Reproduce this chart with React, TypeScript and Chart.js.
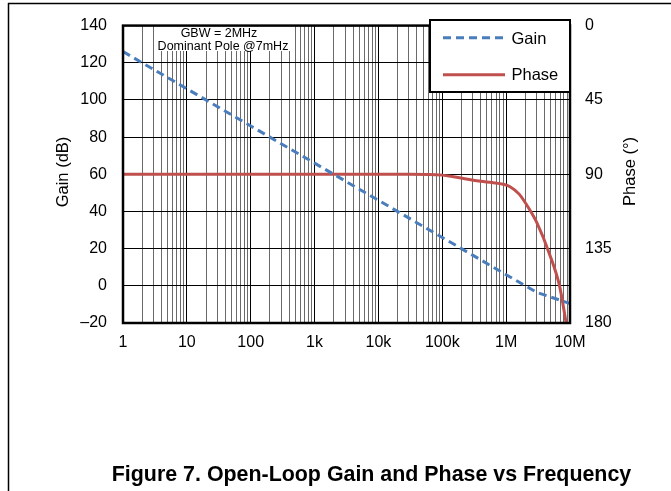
import React, { useEffect, useRef } from "react";
import { Chart, registerables } from "chart.js";

Chart.register(...registerables);

// ---------- data ----------
const gainFreqHz = [1, 10, 100, 1e3, 1e4, 1e5, 1e6, 3e6, 1e7];
const gainDb = [126, 106, 86, 66, 46, 26, 6, -3.5, -9.5];

const phaseFreqHz = [1, 3e4, 1e5, 1.5e5, 2.5e5, 4e5, 6e5, 9e5, 1.15e6, 1.6e6, 2.3e6, 3e6, 4.8e6, 6.9e6, 8.7e6];
const phaseDeg = [90, 90, 90.5, 91.5, 93, 94.2, 95, 96, 97.5, 102, 111, 119, 138.5, 158, 180];

const decadeValues = [1, 10, 100, 1e3, 1e4, 1e5, 1e6, 1e7];
const decadeLabels = ["1", "10", "100", "1k", "10k", "100k", "1M", "10M"];
const gainTicks = [-20, 0, 20, 40, 60, 80, 100, 120, 140];
const phaseTicks = [0, 45, 90, 135, 180];

const seriesNames = ["Gain", "Phase"];
const gainAxisTitle = "Gain (dB)";
const phaseAxisTitle = "Phase (°)";
const noteLines = ["GBW = 2MHz", "Dominant Pole @7mHz"];
const captionText = "Figure 7. Open-Loop Gain and Phase vs Frequency";

// ---------- styles ----------
const FONT = '"Liberation Sans", Arial, Helvetica, sans-serif';
const BLUE = "#4a7dbb";
const RED = "#c0504d";
const DASH = [8, 5];
const W = 671;
const H = 491;

const gridValues: number[] = [];
for (let i = 0; i < decadeValues.length - 1; i++) {
  for (let m = 1; m <= 9; m++) gridValues.push(m * decadeValues[i]);
}
gridValues.push(decadeValues[decadeValues.length - 1]);

const isDecade = (v: number) => decadeValues.some((d) => Math.abs(d - v) / d < 1e-9);
const labelFor = (v: number) => {
  const idx = decadeValues.findIndex((d) => Math.abs(d - v) / d < 1e-9);
  return idx >= 0 ? decadeLabels[idx] : "";
};

const decorPlugin = {
  id: "decor",
  beforeDatasetsDraw(chart: any) {
    const { ctx } = chart;
    // annotation box
    ctx.save();
    ctx.fillStyle = "#ffffff";
    ctx.fillRect(156, 23, 134, 28);
    ctx.fillStyle = "#000";
    ctx.font = `12.5px ${FONT}`;
    ctx.textAlign = "center";
    ctx.textBaseline = "alphabetic";
    ctx.fillText(noteLines[0], 219, 36.7);
    ctx.fillText(noteLines[1], 223, 50);
    ctx.restore();
  },
  afterDraw(chart: any) {
    const { ctx, chartArea: a } = chart;
    ctx.save();
    // plot border
    ctx.strokeStyle = "#000";
    ctx.lineWidth = 2.5;
    ctx.strokeRect(a.left, a.top, a.right - a.left, a.bottom - a.top);

    // legend
    const lx = 430, ly = 20, lw = a.right - 430, lh = 72;
    ctx.fillStyle = "#fff";
    ctx.fillRect(lx, ly, lw, lh);
    ctx.lineWidth = 2;
    ctx.strokeRect(lx, ly, lw, lh);
    ctx.lineWidth = 3;
    ctx.strokeStyle = BLUE;
    ctx.setLineDash(DASH);
    ctx.beginPath();
    ctx.moveTo(443, 37.7);
    ctx.lineTo(505, 37.7);
    ctx.stroke();
    ctx.setLineDash([]);
    ctx.strokeStyle = RED;
    ctx.beginPath();
    ctx.moveTo(443, 74.7);
    ctx.lineTo(505, 74.7);
    ctx.stroke();
    ctx.fillStyle = "#000";
    ctx.font = `16.5px ${FONT}`;
    ctx.textAlign = "left";
    ctx.textBaseline = "alphabetic";
    ctx.fillText(seriesNames[0], 511.5, 44.3);
    ctx.fillText(seriesNames[1], 511.5, 80);

    // axis titles
    ctx.font = `16.5px ${FONT}`;
    ctx.textAlign = "center";
    ctx.textBaseline = "middle";
    ctx.save();
    ctx.translate(63.5, 172);
    ctx.rotate(-Math.PI / 2);
    ctx.fillText(gainAxisTitle, 0, 0);
    ctx.restore();
    ctx.save();
    ctx.translate(630, 171.5);
    ctx.rotate(-Math.PI / 2);
    ctx.fillText(phaseAxisTitle, 0, 0);
    ctx.restore();

    // caption
    ctx.font = `bold 21.4px ${FONT}`;
    ctx.textAlign = "center";
    ctx.textBaseline = "alphabetic";
    ctx.fillText(captionText, 371.5, 481);

    // page frame
    ctx.strokeStyle = "#000";
    ctx.lineWidth = 1.5;
    ctx.beginPath();
    ctx.moveTo(8, 3.5);
    ctx.lineTo(W, 3.5);
    ctx.moveTo(8.5, 3);
    ctx.lineTo(8.5, H);
    ctx.stroke();
    ctx.restore();
  },
};

export default function App() {
  const ref = useRef<HTMLCanvasElement | null>(null);

  useEffect(() => {
    if (!ref.current) return;
    const chart = new Chart(ref.current, {
      type: "line",
      data: {
        datasets: [
          {
            label: seriesNames[0],
            data: gainFreqHz.map((f, i) => ({ x: f, y: gainDb[i] })),
            yAxisID: "y",
            borderColor: BLUE,
            borderWidth: 3,
            borderDash: DASH,
            pointRadius: 0,
            tension: 0,
            fill: false,
          },
          {
            label: seriesNames[1],
            data: phaseFreqHz.map((f, i) => ({ x: f, y: phaseDeg[i] })),
            yAxisID: "y2",
            borderColor: RED,
            borderWidth: 3,
            pointRadius: 0,
            cubicInterpolationMode: "monotone",
            fill: false,
          },
        ],
      },
      options: {
        animation: false,
        responsive: false,
        layout: { padding: { top: 20, left: 0, right: 0, bottom: 0 } },
        plugins: { legend: { display: false }, tooltip: { enabled: false }, title: { display: false } },
        scales: {
          x: {
            type: "logarithmic",
            min: 1,
            max: 1e7,
            afterBuildTicks: (scale: any) => {
              scale.ticks = gridValues.map((v) => ({ value: v }));
            },
            afterFit: (scale: any) => {
              scale.height = 168;
            },
            ticks: {
              autoSkip: false,
              maxRotation: 0,
              minRotation: 0,
              padding: 10,
              color: "#000",
              font: { family: FONT, size: 16 },
              callback: (v: any) => labelFor(Number(v)),
            },
            grid: {
              color: (c: any) => (c.tick && isDecade(c.tick.value) ? "#000" : "#6a6a6a"),
              lineWidth: 1,
              drawTicks: false,
            },
            border: { display: false },
          },
          y: {
            type: "linear",
            position: "left",
            min: -20,
            max: 140,
            afterBuildTicks: (scale: any) => {
              scale.ticks = gainTicks.map((v) => ({ value: v }));
            },
            afterFit: (scale: any) => {
              scale.width = 123;
            },
            ticks: {
              padding: 16,
              color: "#000",
              font: { family: FONT, size: 16 },
              callback: (v: any) => (Number(v) < 0 ? "\u2013" + Math.abs(Number(v)) : String(v)),
            },
            grid: { color: "#000", lineWidth: 1, drawTicks: false },
            border: { display: false },
          },
          y2: {
            type: "linear",
            position: "right",
            min: 0,
            max: 180,
            reverse: true,
            afterBuildTicks: (scale: any) => {
              scale.ticks = phaseTicks.map((v) => ({ value: v }));
            },
            afterFit: (scale: any) => {
              scale.width = 101;
            },
            ticks: {
              padding: 15,
              color: "#000",
              font: { family: FONT, size: 16 },
            },
            grid: { drawOnChartArea: false, drawTicks: false },
            border: { display: false },
          },
        },
      } as any,
      plugins: [decorPlugin],
    });
    return () => chart.destroy();
  }, []);

  return (
    <div style={{ position: "fixed", left: 0, top: 0, width: W, height: H, background: "#fff" }}>
      <canvas ref={ref} width={W} height={H} style={{ display: "block", width: W, height: H }} />
    </div>
  );
}
